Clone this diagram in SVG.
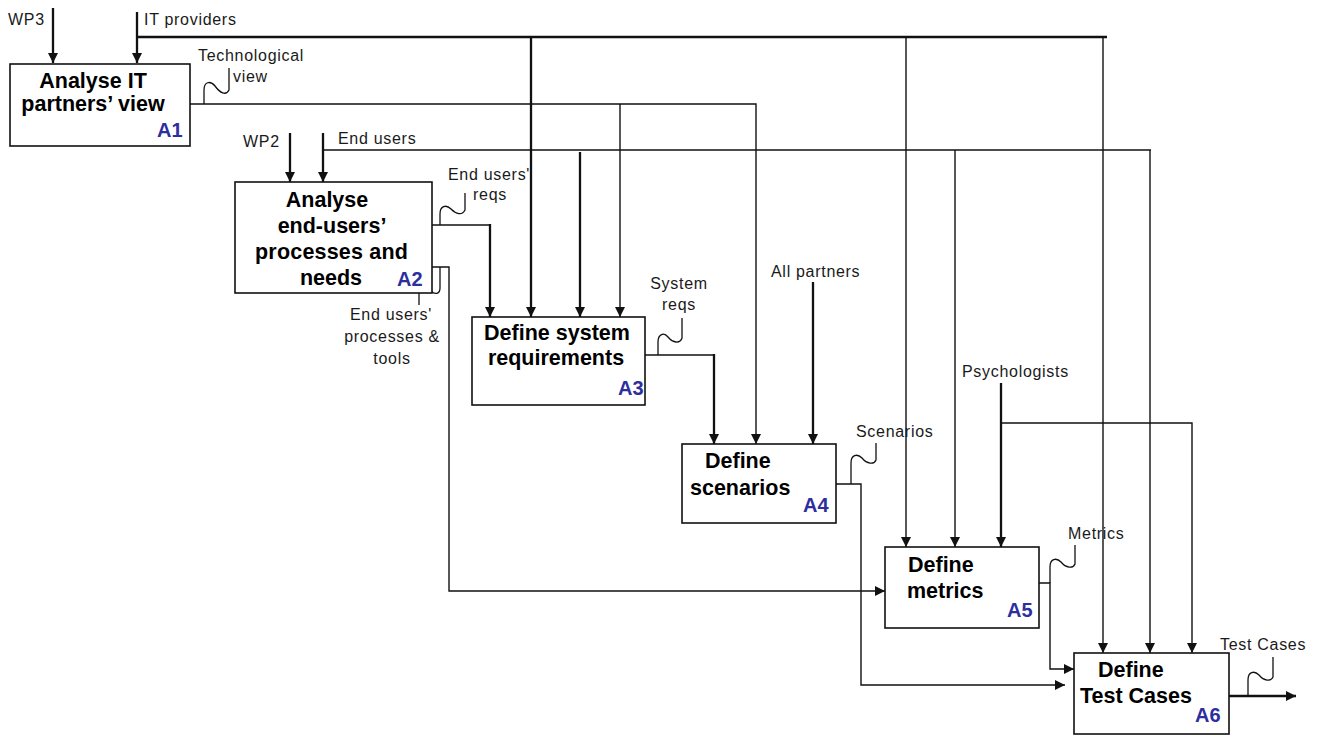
<svg xmlns="http://www.w3.org/2000/svg" width="1325" height="735" viewBox="0 0 1325 735">
<style>
.box{fill:#fff;stroke:#111;stroke-width:1.6}
.t{font-family:"Liberation Sans",Arial,sans-serif;font-weight:bold;font-size:21.5px;fill:#000}
.id{font-family:"Liberation Sans",Arial,sans-serif;font-weight:bold;font-size:20px;fill:#2e2e9e}
.lb{font-family:"Liberation Sans",Arial,sans-serif;font-size:16px;letter-spacing:0.7px;fill:#1a1a1a}
.c{fill:none;stroke:#111;stroke-width:1.4}
.k{fill:none;stroke:#111;stroke-width:2.3}
.q{fill:none;stroke:#111;stroke-width:1.3}
</style>
<defs>
<marker id="ah" viewBox="0 0 10 10" markerUnits="userSpaceOnUse" markerWidth="10" markerHeight="11" refX="10" refY="5" orient="auto">
<path d="M0,0 L10,5 L0,10 Z" fill="#111"/>
</marker>
</defs>
<rect width="1325" height="735" fill="#fff"/>
<g id="connectors">
<path class="k" d="M53,8 V63" marker-end="url(#ah)"/>
<path class="k" d="M137,12 V63" marker-end="url(#ah)"/>
<path class="k" d="M137,37 H1107"/>
<path class="k" d="M531,37 V317" marker-end="url(#ah)"/>
<path class="c" d="M906,37 V547" marker-end="url(#ah)"/>
<path class="c" d="M1103,37 V653" marker-end="url(#ah)"/>
<path class="c" d="M190,104 H756 V444" marker-end="url(#ah)"/>
<path class="c" d="M620,104 V317" marker-end="url(#ah)"/>
<path class="q" d="M204,104 V90 C204,82 210,80 215,86 C220,93 226,96 229,90 V68"/>
<path class="k" d="M290,133 V182" marker-end="url(#ah)"/>
<path class="k" d="M323,133 V182" marker-end="url(#ah)"/>
<path class="c" d="M323,150 H1151"/>
<path class="k" d="M580,152 V317" marker-end="url(#ah)"/>
<path class="c" d="M955,150 V547" marker-end="url(#ah)"/>
<path class="c" d="M1150,150 V653" marker-end="url(#ah)"/>
<path class="c" d="M432,225 H490"/>
<path class="k" d="M490,224 V317" marker-end="url(#ah)"/>
<path class="q" d="M440,225 V214 C440,206 446,204 451,209 C456,214 462,216 465,210 V193"/>
<path class="c" d="M432,267 H449 V591 H885" marker-end="url(#ah)"/>
<path class="q" d="M440,267 V288 C440,294 435,295 431,291 C427,287 421,283 419,288 V305"/>
<path class="c" d="M645,355 H714"/>
<path class="k" d="M714,354 V444" marker-end="url(#ah)"/>
<path class="q" d="M658,355 V342 C658,334 664,332 668,337 C673,343 680,344 682,338 V318"/>
<path class="k" d="M813,282 V444" marker-end="url(#ah)"/>
<path class="c" d="M836,484 H861 V685 H1065" marker-end="url(#ah)"/>
<path class="q" d="M851,484 V463 C851,455 857,453 862,458 C867,464 874,465 876,460 V443"/>
<path class="k" d="M1001,383 V547" marker-end="url(#ah)"/>
<path class="c" d="M1001,423 H1192 V653" marker-end="url(#ah)"/>
<path class="c" d="M1039,583 H1050 V669 H1074" marker-end="url(#ah)"/>
<path class="q" d="M1050,583 V567 C1050,559 1056,557 1061,562 C1066,568 1073,569 1075,564 V545"/>
<path class="k" d="M1229,696 H1296" marker-end="url(#ah)"/>
<path class="q" d="M1248,696 V680 C1248,672 1254,670 1259,675 C1264,681 1271,682 1273,677 V657"/>
</g>
<g id="labels">
<text class="lb" x="8" y="25">WP3</text>
<text class="lb" x="144" y="25">IT providers</text>
<text class="lb" x="198" y="61">Technological</text>
<text class="lb" x="233" y="82">view</text>
<text class="lb" x="243" y="147">WP2</text>
<text class="lb" x="338" y="144">End users</text>
<text class="lb" x="448" y="180">End users'</text>
<text class="lb" x="473" y="200">reqs</text>
<text class="lb" x="391" y="320" text-anchor="middle">End users'</text>
<text class="lb" x="392" y="342" text-anchor="middle">processes &amp;</text>
<text class="lb" x="392" y="364" text-anchor="middle">tools</text>
<text class="lb" x="679" y="289" text-anchor="middle">System</text>
<text class="lb" x="679" y="310" text-anchor="middle">reqs</text>
<text class="lb" x="771" y="277">All partners</text>
<text class="lb" x="856" y="437">Scenarios</text>
<text class="lb" x="962" y="377">Psychologists</text>
<text class="lb" x="1068" y="539">Metrics</text>
<text class="lb" x="1220" y="650">Test Cases</text>
</g>
<g id="A1">
<rect class="box" x="10" y="64" width="180" height="82"/>
<text class="t" x="93" y="88" text-anchor="middle">Analyse IT</text>
<text class="t" x="93" y="111" text-anchor="middle">partners’ view</text>
<text class="id" x="157" y="137">A1</text>
</g>
<g id="A2">
<rect class="box" x="235" y="182" width="197" height="111"/>
<text class="t" x="327" y="207" text-anchor="middle">Analyse</text>
<text class="t" x="332" y="233" text-anchor="middle">end-users’</text>
<text class="t" x="255" y="259" textLength="153" lengthAdjust="spacing">processes and</text>
<text class="t" x="331" y="285" text-anchor="middle">needs</text>
<text class="id" x="397" y="286">A2</text>
</g>
<g id="A3">
<rect class="box" x="472" y="317" width="173" height="88"/>
<text class="t" x="557" y="340" text-anchor="middle">Define system</text>
<text class="t" x="556" y="365" text-anchor="middle">requirements</text>
<text class="id" x="618" y="395">A3</text>
</g>
<g id="A4">
<rect class="box" x="682" y="444" width="154" height="79"/>
<text class="t" x="705" y="468">Define</text>
<text class="t" x="690" y="495">scenarios</text>
<text class="id" x="803" y="512">A4</text>
</g>
<g id="A5">
<rect class="box" x="885" y="547" width="154" height="81"/>
<text class="t" x="908" y="572">Define</text>
<text class="t" x="907" y="598">metrics</text>
<text class="id" x="1007" y="617">A5</text>
</g>
<g id="A6">
<rect class="box" x="1074" y="653" width="155" height="81"/>
<text class="t" x="1098" y="677">Define</text>
<text class="t" x="1080" y="703">Test Cases</text>
<text class="id" x="1195" y="722">A6</text>
</g>
</svg>
